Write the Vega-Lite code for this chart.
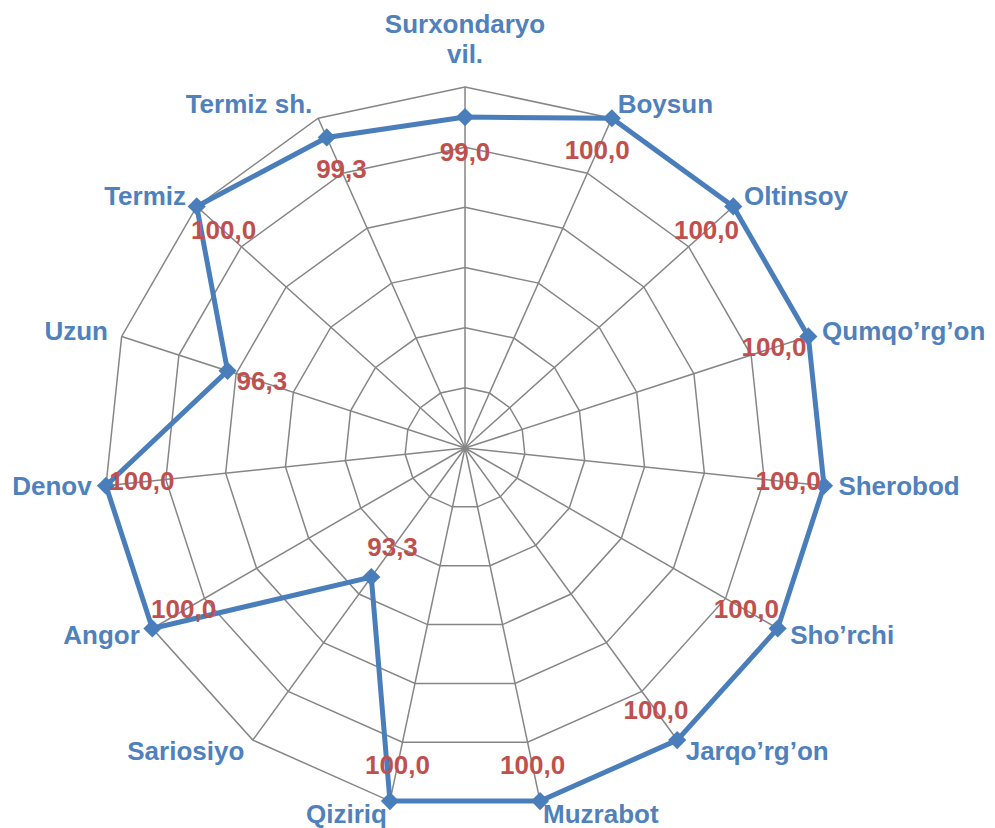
{
  "$schema": "https://vega.github.io/schema/vega-lite/v6.json",
  "width": 995,
  "height": 828,
  "autosize": "none",
  "padding": 0,
  "background": "white",
  "config": {"view": {"stroke": null}},
  "datasets": {
    "districts": [
      {"name": "Surxondaryo\nvil.", "value": 99.0, "i": 0},
      {"name": "Boysun", "value": 100.0, "i": 1},
      {"name": "Oltinsoy", "value": 100.0, "i": 2},
      {"name": "Qumqo’rg’on", "value": 100.0, "i": 3},
      {"name": "Sherobod", "value": 100.0, "i": 4},
      {"name": "Sho’rchi", "value": 100.0, "i": 5},
      {"name": "Jarqo’rg’on", "value": 100.0, "i": 6},
      {"name": "Muzrabot", "value": 100.0, "i": 7},
      {"name": "Qiziriq", "value": 100.0, "i": 8},
      {"name": "Sariosiyo", "value": 93.3, "i": 9},
      {"name": "Angor", "value": 100.0, "i": 10},
      {"name": "Denov", "value": 100.0, "i": 11},
      {"name": "Uzun", "value": 96.3, "i": 12},
      {"name": "Termiz", "value": 100.0, "i": 13},
      {"name": "Termiz sh.", "value": 99.3, "i": 14}
    ],
    "rings": [
      {"level": 90, "i": [0,1,2,3,4,5,6,7,8,9,10,11,12,13,14]},
      {"level": 92, "i": [0,1,2,3,4,5,6,7,8,9,10,11,12,13,14]},
      {"level": 94, "i": [0,1,2,3,4,5,6,7,8,9,10,11,12,13,14]},
      {"level": 96, "i": [0,1,2,3,4,5,6,7,8,9,10,11,12,13,14]},
      {"level": 98, "i": [0,1,2,3,4,5,6,7,8,9,10,11,12,13,14]},
      {"level": 100, "i": [0,1,2,3,4,5,6,7,8,9,10,11,12,13,14]}
    ]
  },
  "encoding": {
    "x": {"field": "px", "type": "quantitative", "scale": {"domain": [-1.2881, 1.4681], "nice": false, "zero": false}, "axis": null},
    "y": {"field": "py", "type": "quantitative", "scale": {"domain": [-1.0526, 1.241], "nice": false, "zero": false}, "axis": null}
  },
  "layer": [
    {
      "data": {"name": "districts"},
      "transform": [
        {"calculate": "sin(datum.i*2*PI/15)", "as": "px"},
        {"calculate": "cos(datum.i*2*PI/15)", "as": "py"}
      ],
      "mark": {"type": "rule", "color": "#868686", "strokeWidth": 1.5},
      "encoding": {"x2": {"datum": 0}, "y2": {"datum": 0}}
    },
    {
      "data": {"name": "rings"},
      "transform": [
        {"flatten": ["i"]},
        {"calculate": "(datum.level-88)/12", "as": "r"},
        {"calculate": "datum.r*sin(datum.i*2*PI/15)", "as": "px"},
        {"calculate": "datum.r*cos(datum.i*2*PI/15)", "as": "py"}
      ],
      "mark": {"type": "line", "interpolate": "linear-closed", "color": "#868686", "strokeWidth": 1.5},
      "encoding": {"detail": {"field": "level", "type": "nominal"}, "order": {"field": "i", "type": "quantitative"}}
    },
    {
      "data": {"name": "districts"},
      "transform": [
        {"calculate": "(datum.value-88)/12", "as": "r"},
        {"calculate": "datum.r*sin(datum.i*2*PI/15)", "as": "px"},
        {"calculate": "datum.r*cos(datum.i*2*PI/15)", "as": "py"}
      ],
      "mark": {"type": "line", "interpolate": "linear-closed", "color": "#4A7EBB", "strokeWidth": 5},
      "encoding": {"order": {"field": "i", "type": "quantitative"}}
    },
    {
      "data": {"name": "districts"},
      "transform": [
        {"calculate": "(datum.value-88)/12", "as": "r"},
        {"calculate": "datum.r*sin(datum.i*2*PI/15)", "as": "px"},
        {"calculate": "datum.r*cos(datum.i*2*PI/15)", "as": "py"}
      ],
      "mark": {"type": "point", "shape": "diamond", "filled": true, "size": 330, "color": "#4A7EBB", "opacity": 1}
    },
    {
      "data": {"name": "districts"},
      "transform": [
        {"calculate": "(datum.value-88)/12 - 0.1", "as": "r"},
        {"calculate": "datum.r*sin(datum.i*2*PI/15)", "as": "px"},
        {"calculate": "datum.r*cos(datum.i*2*PI/15)", "as": "py"},
        {"calculate": "replace(format(datum.value, '.1f'), '.', ',')", "as": "lbl"}
      ],
      "mark": {"type": "text", "font": "Liberation Sans", "fontWeight": "bold", "fontSize": 26, "color": "#C0504D", "align": "center", "baseline": "middle"},
      "encoding": {"text": {"field": "lbl", "type": "nominal"}}
    },
    {
      "data": {"name": "districts"},
      "transform": [
        {"filter": "datum.i >= 1 && datum.i <= 7"},
        {"calculate": "1.04*sin(datum.i*2*PI/15)", "as": "px"},
        {"calculate": "1.04*cos(datum.i*2*PI/15)", "as": "py"}
      ],
      "mark": {"type": "text", "font": "Liberation Sans", "fontWeight": "bold", "fontSize": 26, "color": "#4F81BD", "align": "left", "baseline": "middle"},
      "encoding": {"text": {"field": "name", "type": "nominal"}}
    },
    {
      "data": {"name": "districts"},
      "transform": [
        {"filter": "datum.i >= 8"},
        {"calculate": "1.04*sin(datum.i*2*PI/15)", "as": "px"},
        {"calculate": "1.04*cos(datum.i*2*PI/15)", "as": "py"}
      ],
      "mark": {"type": "text", "font": "Liberation Sans", "fontWeight": "bold", "fontSize": 26, "color": "#4F81BD", "align": "right", "baseline": "middle"},
      "encoding": {"text": {"field": "name", "type": "nominal"}}
    },
    {
      "data": {"name": "districts"},
      "transform": [
        {"filter": "datum.i == 0"},
        {"calculate": "0", "as": "px"},
        {"calculate": "1.172", "as": "py"}
      ],
      "mark": {"type": "text", "font": "Liberation Sans", "fontWeight": "bold", "fontSize": 26, "color": "#4F81BD", "align": "center", "baseline": "middle", "lineBreak": "\n", "lineHeight": 30},
      "encoding": {"text": {"field": "name", "type": "nominal"}}
    }
  ]
}
